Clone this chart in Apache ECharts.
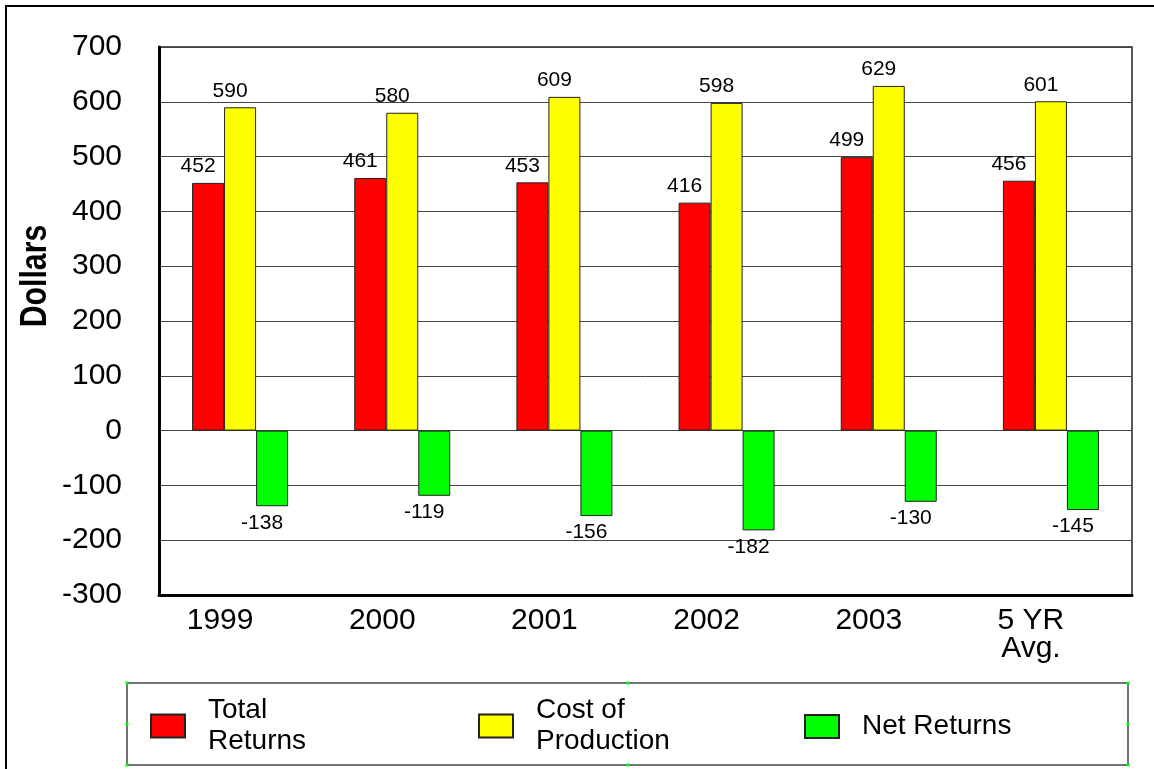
<!DOCTYPE html>
<html>
<head>
<meta charset="utf-8">
<title>Returns vs Cost of Production</title>
<script src="https://cdn.jsdelivr.net/npm/echarts@6/dist/echarts.min.js"></script>
<style>
  html, body { margin: 0; padding: 0; background: #fff; }
  #chart { width: 1154px; height: 769px; }
</style>
</head>
<body>
<div id="chart"></div>
<script>
const categories = ["1999", "2000", "2001", "2002", "2003", "5 YR\nAvg."];
const seriesNames = ["Total Returns", "Cost of Production", "Net Returns"];
const legendLabels = ["Total\nReturns", "Cost of\nProduction", "Net Returns"];
const totalReturns = [452, 461, 453, 416, 499, 456];
const costOfProduction = [590, 580, 609, 598, 629, 601];
const netReturns = [-138, -119, -156, -182, -130, -145];

const FONT = "'Liberation Sans', Arial, sans-serif";
const colors = ["#ff0000", "#ffff00", "#00ff00"];

const chart = echarts.init(document.getElementById("chart"));

const makeSeries = (idx, data, labelPos) => ({
  name: seriesNames[idx],
  type: "bar",
  data: data,
  barWidth: 32,
  barGap: "0%",
  itemStyle: {
    color: colors[idx],
    borderColor: "#222",
    borderWidth: 1,
  },
  label: {
    show: true,
    position: labelPos,
    distance: 6,
    offset: [-10, 0],
    color: "#000",
    fontFamily: FONT,
    fontSize: 21,
  },
});

const legendAt = (idx, left, top) => ({
  data: [seriesNames[idx]],
  left: left,
  top: top,
  padding: 0,
  icon: "rect",
  itemWidth: 34,
  itemHeight: 23,
  selectedMode: false,
  formatter: (name) => legendLabels[seriesNames.indexOf(name)],
  textStyle: {
    color: "#000",
    fontFamily: FONT,
    fontSize: 28,
    lineHeight: 31,
    padding: [0, 0, 0, 18],
  },
});

// selection handles on the legend frame
const handles = [
  [127, 683], [628, 683], [1128, 683],
  [127, 724], [1128, 724],
  [127, 765], [628, 765], [1128, 765],
].map(([x, y]) => ({
  type: "rect",
  shape: { x: x - 1.5, y: y - 1.5, width: 3, height: 3 },
  style: { fill: "#00ff00" },
  z: 10,
}));

const option = {
  backgroundColor: "#fff",
  animation: false,
  grid: {
    left: 159,
    right: 22,
    top: 47,
    bottom: 174,
    show: true,
    borderColor: "#222",
    borderWidth: 1.5,
  },
  xAxis: {
    type: "category",
    data: categories,
    axisLine: { onZero: false, lineStyle: { color: "#000", width: 3 } },
    axisTick: { show: false },
    axisLabel: {
      color: "#000",
      fontFamily: FONT,
      fontSize: 30,
      lineHeight: 28,
      margin: 12,
      padding: [0, 40, 0, 0],
    },
  },
  yAxis: {
    type: "value",
    min: -300,
    max: 700,
    interval: 100,
    axisLine: { show: true, lineStyle: { color: "#000", width: 3 } },
    axisTick: { show: false },
    axisLabel: {
      color: "#000",
      fontFamily: FONT,
      fontSize: 30,
      margin: 37,
    },
    splitLine: { lineStyle: { color: "#444", width: 1 } },
  },
  legend: [
    legendAt(0, 150, 695),
    legendAt(1, 478, 695),
    legendAt(2, 804, 711),
  ],
  graphic: [
    {
      type: "rect",
      shape: { x: 6, y: 6, width: 1200, height: 800 },
      style: { fill: null, stroke: "#000", lineWidth: 2 },
      silent: true,
    },
    {
      type: "rect",
      shape: { x: 127, y: 683, width: 1001, height: 82 },
      style: { fill: null, stroke: "#444", lineWidth: 1.5 },
      silent: true,
    },
    {
      type: "text",
      x: 36,
      y: 276,
      rotation: Math.PI / 2,
      scaleX: 0.84,
      style: {
        text: "Dollars",
        fill: "#000",
        font: "bold 36px " + FONT,
        align: "center",
        verticalAlign: "middle",
      },
    },
    ...handles,
  ],
  series: [
    makeSeries(0, totalReturns, "top"),
    makeSeries(1, costOfProduction, "top"),
    makeSeries(2, netReturns, "bottom"),
  ],
};

chart.setOption(option);

window.addEventListener("resize", () => {
  chart.resize();
});
</script>
</body>
</html>
